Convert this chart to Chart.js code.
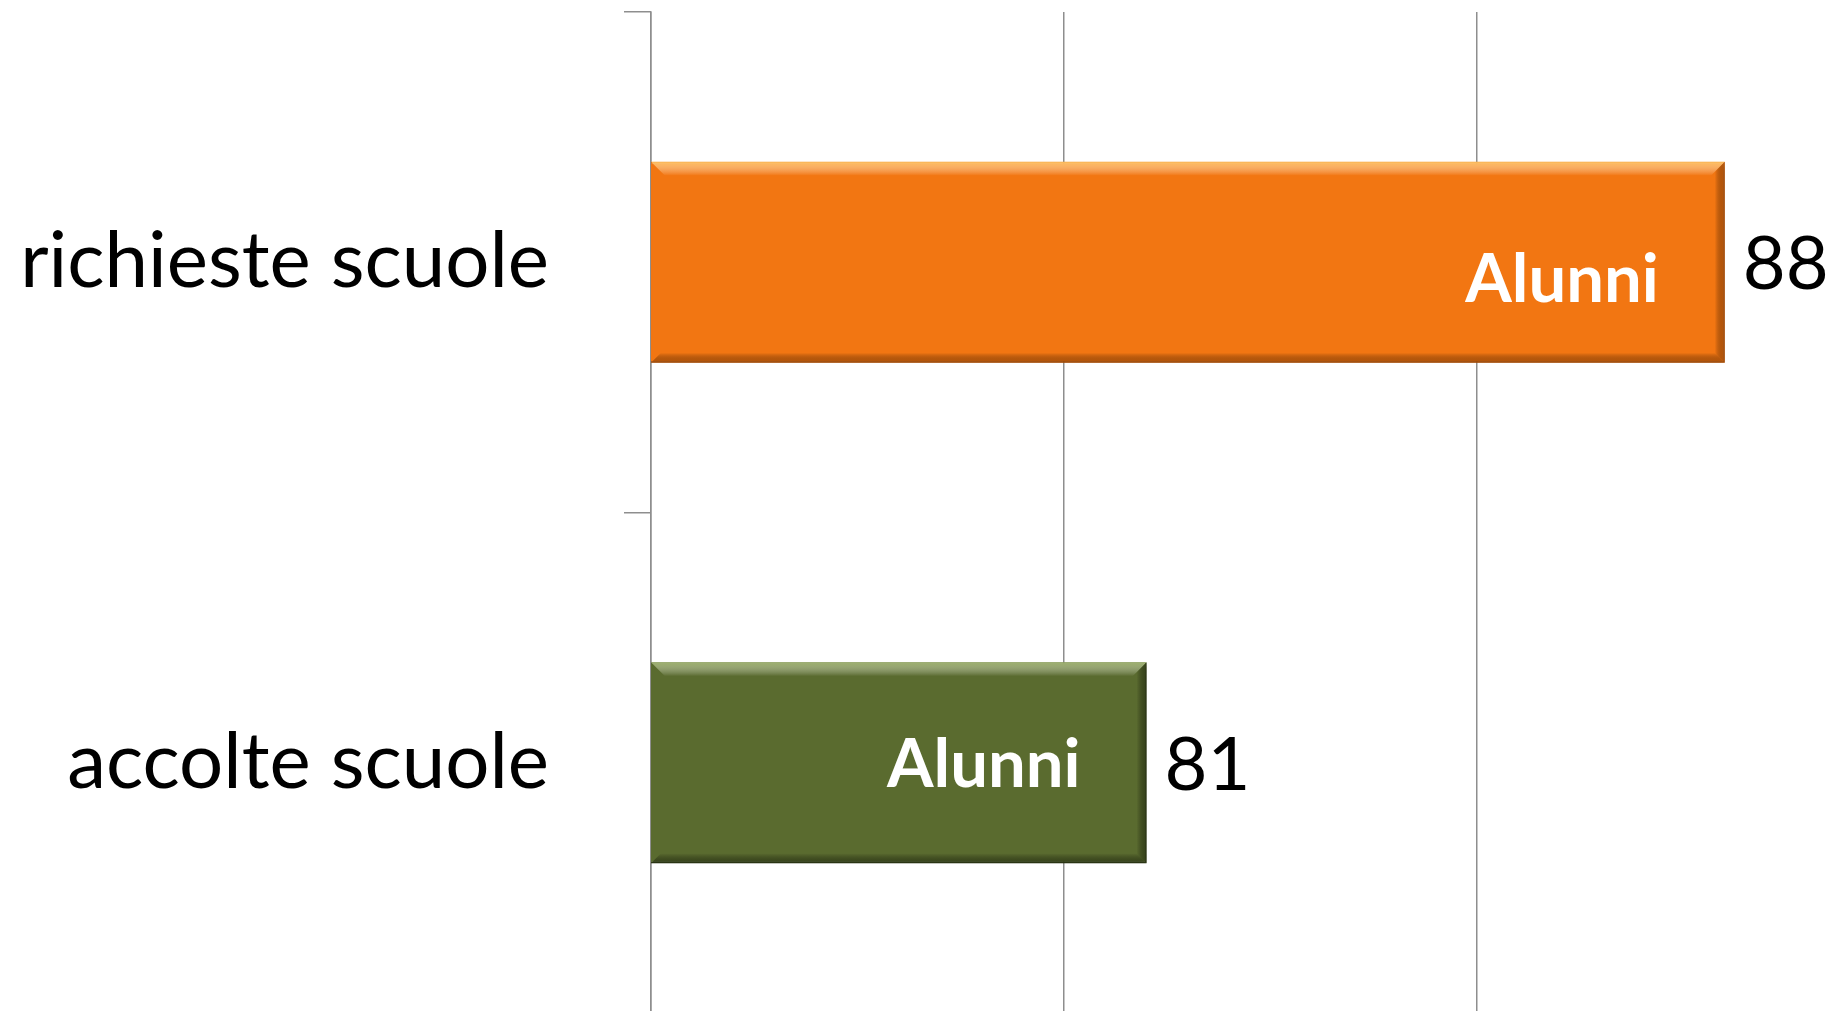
<!DOCTYPE html>
<html>
<head>
<meta charset="utf-8">
<script src="https://cdn.jsdelivr.net/npm/chart.js@4"></script>
<style>
  html, body { margin: 0; padding: 0; background: #fff; overflow: hidden; }
  #wrap { position: absolute; left: 0; top: 0; width: 1900px; height: 1014px; }
</style>
</head>
<body>
<div id="wrap"><canvas id="alunniChart"></canvas></div>
<script>
// categories and values
const categories = ['richieste scuole', 'accolte scuole'];
const seriesName = 'Alunni';
const alunni = [88, 81];
const xTicks = [75, 80, 85, 90];

const barColors = ['#F27612', '#5A6B2F'];
const lightEdge = ['rgba(255,190,90,0.95)', 'rgba(160,180,110,0.9)'];
const darkEdge = ['rgba(175,80,5,0.75)', 'rgba(40,52,18,0.7)'];
const gridGray = '#8e8e8e';
const FONT = 'Lato, "Open Sans", sans-serif';

// draws the bevel, shadow and the text on each bar
const barDecor = {
    id: 'barDecor',
    beforeDatasetsDraw(chart) {
        const ctx = chart.ctx;
        ctx.save();
        ctx.shadowColor = 'rgba(0,0,0,0.35)';
        ctx.shadowBlur = 7;
        ctx.shadowOffsetX = 3;
        ctx.shadowOffsetY = 4;
    },
    afterDatasetsDraw(chart, args, opts) {
        const ctx = chart.ctx;
        ctx.restore();
        const meta = chart.getDatasetMeta(0);
        meta.data.forEach((bar, i) => {
            const p = bar.getProps(['x', 'y', 'base', 'height'], true);
            const left = Math.max(p.base, chart.chartArea.left), right = p.x;
            const top = p.y - p.height / 2, bottom = p.y + p.height / 2;

            ctx.save();
            // top highlight
            let g = ctx.createLinearGradient(0, top, 0, top + 14);
            g.addColorStop(0, lightEdge[i]);
            g.addColorStop(1, 'rgba(255,255,255,0)');
            ctx.fillStyle = g;
            ctx.beginPath();
            ctx.moveTo(left, top); ctx.lineTo(right, top);
            ctx.lineTo(right - 14, top + 14); ctx.lineTo(left + 14, top + 14);
            ctx.closePath(); ctx.fill();
            // bottom shade
            g = ctx.createLinearGradient(0, bottom - 10, 0, bottom);
            g.addColorStop(0, 'rgba(0,0,0,0)');
            g.addColorStop(1, darkEdge[i]);
            ctx.fillStyle = g;
            ctx.beginPath();
            ctx.moveTo(left + 10, bottom - 10); ctx.lineTo(right - 10, bottom - 10);
            ctx.lineTo(right, bottom); ctx.lineTo(left, bottom);
            ctx.closePath(); ctx.fill();
            // right shade
            g = ctx.createLinearGradient(right - 10, 0, right, 0);
            g.addColorStop(0, 'rgba(0,0,0,0)');
            g.addColorStop(1, darkEdge[i]);
            ctx.fillStyle = g;
            ctx.beginPath();
            ctx.moveTo(right - 10, top + 10); ctx.lineTo(right, top);
            ctx.lineTo(right, bottom); ctx.lineTo(right - 10, bottom - 10);
            ctx.closePath(); ctx.fill();
            ctx.restore();

            // series name inside the bar
            ctx.save();
            ctx.fillStyle = '#ffffff';
            ctx.font = 'bold 67px ' + FONT;
            ctx.textAlign = 'right';
            ctx.textBaseline = 'middle';
            ctx.fillText(chart.data.datasets[0].label, right - opts.innerGap, p.y + opts.innerShift[i]);

            // value to the right of the bar
            ctx.fillStyle = '#000000';
            ctx.font = '74px ' + FONT;
            ctx.textAlign = 'left';
            ctx.fillText(String(alunni[i]), right + opts.valueGap, p.y + 3);
            ctx.restore();
        });
    }
};

const ctx = document.getElementById('alunniChart');
const alunniChart = new Chart(ctx, {
    type: 'bar',
    data: {
        labels: categories,
        datasets: [{
            label: seriesName,
            data: alunni,
            backgroundColor: barColors,
            borderColor: ['#D9660A', '#46551F'],
            borderWidth: 1.5,
            barPercentage: 0.402,
            categoryPercentage: 1
        }]
    },
    options: {
        indexAxis: 'y',
        responsive: true,
        maintainAspectRatio: false,
        animation: false,
        layout: {
            padding: { top: 12, right: 10, bottom: 1, left: 0 }
        },
        scales: {
            x: {
                min: 75,
                max: 90,
                afterBuildTicks: (scale) => { scale.ticks = xTicks.map(v => ({ value: v })); },
                afterFit: (scale) => { scale.height = 0; },
                ticks: { display: false },
                grid: { color: gridGray, lineWidth: 1.5, drawTicks: false },
                border: { display: false }
            },
            y: {
                afterFit: (scale) => {
                    scale.width = 651;
                    scale.paddingTop = 0;
                    scale.paddingBottom = 0;
                },
                ticks: {
                    color: '#000000',
                    padding: 75,
                    font: { family: FONT, size: 78 }
                },
                grid: {
                    drawOnChartArea: false,
                    tickLength: 27,
                    color: gridGray,
                    lineWidth: 1.5,
                    offset: true
                },
                border: { display: true, color: gridGray, width: 1.5 }
            }
        },
        plugins: {
            legend: { display: false },
            tooltip: { enabled: false },
            barDecor: { innerGap: 66, innerShift: [18, 3], valueGap: 18 }
        }
    },
    plugins: [barDecor]
});
</script>
</body>
</html>
